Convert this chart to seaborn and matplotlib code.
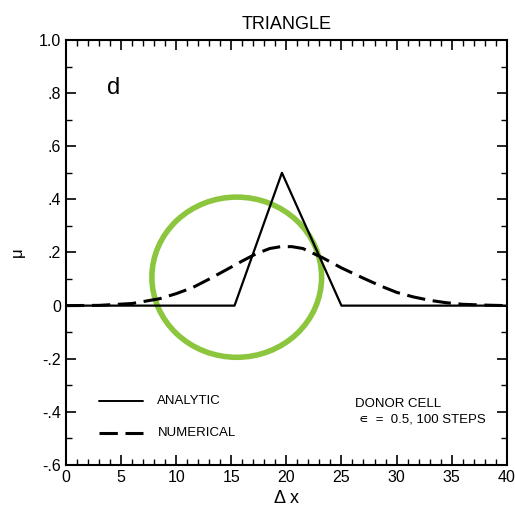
import matplotlib.pyplot as plt
import seaborn as sns
import pandas as pd
from matplotlib.patches import Ellipse
from matplotlib.ticker import MultipleLocator, FixedLocator

# analytic triangle and numerical (donor cell) solution
analytic_x = [0, 15.3, 19.6, 25.0, 40]
analytic_mu = [0, 0, 0.5, 0, 0]

numerical_x = [0, 3, 6, 8.5, 10, 11.5, 13, 14.6, 16, 17.3, 18.5, 19.5, 20.5, 21.5, 23.3, 25, 26.9, 28.5, 30, 31.5, 33, 34.5, 36, 38, 40]
numerical_mu = [0, 0.001, 0.008, 0.026, 0.045, 0.068, 0.1, 0.136, 0.168, 0.196, 0.215, 0.222, 0.222, 0.215, 0.18, 0.142, 0.105, 0.075, 0.05, 0.033, 0.02, 0.011, 0.005, 0.002, 0]

y_ticks = [-0.6, -0.4, -0.2, 0, 0.2, 0.4, 0.6, 0.8, 1.0]
y_labels = ["-.6", "-.4", "-.2", "0", ".2", ".4", ".6", ".8", "1.0"]

sns.set_style("ticks")
plt.rcParams['font.family'] = ['Liberation Sans', 'DejaVu Sans']

fig = plt.figure(figsize=(5.15, 5.19), dpi=100)
ax = fig.add_axes([0.128, 0.104, 0.856, 0.819])

sns.lineplot(x=analytic_x, y=analytic_mu, color='black', lw=1.6, ax=ax)
sns.lineplot(x=numerical_x, y=numerical_mu, color='black', lw=2.2, ax=ax)
ax.lines[-1].set_dashes([6, 2.5])

ax.set_xlim(0, 40)
ax.set_ylim(-0.6, 1.0)
ax.xaxis.set_major_locator(MultipleLocator(5))
ax.xaxis.set_minor_locator(MultipleLocator(1))
ax.yaxis.set_major_locator(FixedLocator(y_ticks))
ax.set_yticklabels(y_labels)
ax.yaxis.set_minor_locator(MultipleLocator(0.1))
ax.tick_params(which='both', direction='in', top=True, right=True, labelsize=11.5, colors='black')
ax.tick_params(which='major', length=7, width=1.2)
ax.tick_params(which='minor', length=4, width=1)
for s in ax.spines.values():
    s.set_linewidth(1.5)
    s.set_color('black')

ax.set_title("TRIANGLE", fontsize=13, pad=8, color='black')
ax.set_xlabel("Δ x", fontsize=13, labelpad=4, color='black')
ax.set_ylabel("μ", fontsize=12, labelpad=10, color='black')

ax.text(4.3, 0.82, "d", fontsize=17, ha='center', va='center', color='black')

# legend drawn by hand like the original
ax.plot([3.0, 7.0], [-0.36, -0.36], color='black', lw=1.4)
ax.text(8.3, -0.36, "ANALYTIC", fontsize=9.5, va='center', color='black')
ax.plot([3.0, 7.0], [-0.48, -0.48], color='black', lw=2.2, dashes=[6, 2.5])
ax.text(8.3, -0.48, "NUMERICAL", fontsize=9.5, va='center', color='black')

ax.text(26.2, -0.37, "DONOR CELL", fontsize=9.5, va='center', color='black')
ax.text(26.6, -0.43, "∊  =  0.5, 100 STEPS", fontsize=9.5, va='center', color='black')

ax.add_patch(Ellipse((15.5, 0.107), 15.4, 0.603, fill=False, ec='#8cc63f', lw=4))

fig.savefig("out.png", dpi=100)
